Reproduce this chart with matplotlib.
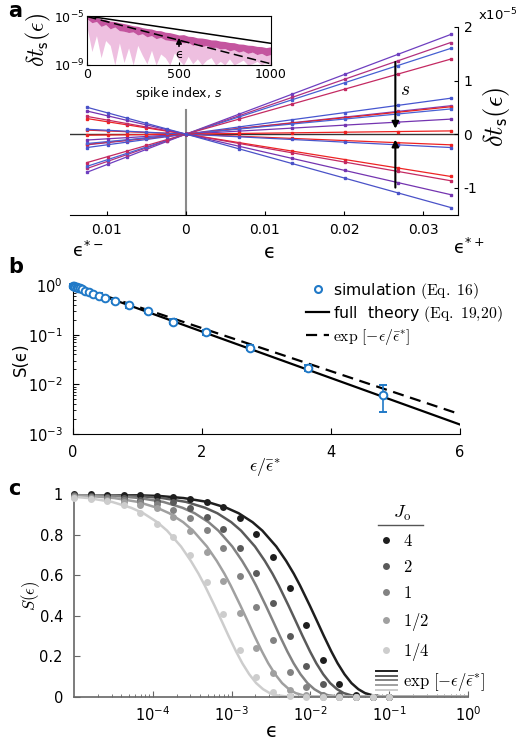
import numpy as np
import matplotlib.pyplot as plt
from matplotlib.lines import Line2D
from matplotlib.legend_handler import HandlerBase
from matplotlib.ticker import NullLocator, NullFormatter, LogLocator

plt.rcParams['font.family'] = ['DejaVu Sans']
plt.rcParams['axes.unicode_minus'] = False

# ---------------- panel a: spike time shifts vs epsilon ----------------
eps_neg = [-0.0125, -0.0099, -0.0075, -0.0050, -0.0024]
eps_pos = [0.0067, 0.0134, 0.0201, 0.0268, 0.0335]
# delta t_s (units of 1e-5) read at the outermost points, one entry per spike s
dt_right = [1.86, 1.71, 1.60, 1.40, 0.67, 0.53, 0.51, 0.47, 0.28, 0.06,
            -0.20, -0.25, -0.79, -0.87, -1.13, -1.37]
dt_left = [-0.71, -0.64, -0.60, -0.53, -0.25, -0.20, -0.19, -0.175, -0.11, -0.02,
           0.075, 0.09, 0.29, 0.33, 0.43, 0.50]
line_colors = ['#6e3fc0', '#b2307e', '#4660d2', '#c42a62', '#4656d0', '#8240b0',
               '#e82222', '#4a62d4', '#7434b0', '#ee2222', '#ee2222', '#4a56cc',
               '#ee2424', '#c42a62', '#7434b0', '#4a52c8']

# inset: dt_s over spike index (log10 values)
spike_index = np.arange(0, 1001, 25)
dark_hi = [-5.00, -5.10, -5.12, -5.25, -5.30, -5.42, -5.45, -5.55, -5.62, -5.70,
           -5.80, -5.84, -5.95, -6.02, -6.06, -6.18, -6.20, -6.32, -6.36, -6.45,
           -6.55, -6.52, -6.65, -6.68, -6.78, -6.80, -6.86, -6.95, -6.96, -7.05,
           -7.08, -7.16, -7.18, -7.28, -7.30, -7.38, -7.40, -7.48, -7.50, -7.58, -7.52]
dark_lo = [-5.25, -5.55, -5.45, -5.85, -5.70, -6.05, -5.90, -6.20, -6.25, -6.35,
           -6.30, -6.55, -6.45, -6.70, -6.60, -6.85, -6.75, -6.95, -7.00, -7.05,
           -7.10, -7.20, -7.15, -7.40, -7.25, -7.50, -7.40, -7.60, -7.55, -7.70,
           -7.65, -7.85, -7.75, -7.95, -7.85, -8.05, -7.95, -8.15, -8.05, -8.25, -8.15]
light_lo = [-6.0, -7.9, -6.6, -8.4, -7.0, -7.4, -9.0, -7.2, -8.8, -7.6,
            -9.0, -7.4, -8.2, -8.9, -7.8, -9.0, -8.1, -8.4, -9.0, -8.0,
            -8.6, -9.0, -8.3, -8.9, -8.5, -9.0, -8.6, -8.4, -9.0, -8.7,
            -9.0, -8.5, -9.0, -8.8, -8.6, -9.0, -8.9, -8.7, -9.0, -8.8, -9.0]
bound_s = [0, 1000]
bound_solid = [1e-5, 5.9e-8]
bound_dashed = [8.9e-6, 1.26e-9]

# ---------------- panel b: survival vs eps / eps* ----------------
b_x = [0.0, 0.02, 0.04, 0.06, 0.08, 0.11, 0.14, 0.19, 0.25, 0.32,
       0.40, 0.50, 0.65, 0.87, 1.17, 1.56, 2.07, 2.75, 3.64, 4.80]
b_S = [0.97, 0.95, 0.93, 0.91, 0.89, 0.86, 0.83, 0.77, 0.71, 0.66,
       0.61, 0.55, 0.475, 0.39, 0.30, 0.182, 0.112, 0.055, 0.021, 0.0060]
b_err_lo = [0.09, 0.09, 0.09, 0.09, 0.08, 0.08, 0.08, 0.07, 0.07, 0.06,
            0.06, 0.05, 0.045, 0.04, 0.03, 0.02, 0.013, 0.0065, 0.0025, 0.0032]
b_err_hi = [0.09, 0.09, 0.09, 0.09, 0.09, 0.09, 0.09, 0.08, 0.08, 0.07,
            0.07, 0.06, 0.05, 0.045, 0.035, 0.022, 0.015, 0.0075, 0.003, 0.0035]
b_line_x = [0, 6]
b_full_theory = [1.0, 0.00155]
b_exp = [1.0, 0.0025]

# ---------------- panel c: survival vs eps for several J0 ----------------
c_eps = [1.00e-5, 1.62e-5, 2.64e-5, 4.28e-5, 6.95e-5, 1.13e-4, 1.83e-4, 2.98e-4,
         4.83e-4, 7.85e-4, 1.27e-3, 2.07e-3, 3.36e-3, 5.46e-3, 8.86e-3, 1.44e-2,
         2.33e-2, 3.79e-2, 6.16e-2, 1.00e-1]
c_J0 = ['4', '2', '1', '1/2', '1/4']
c_sim = [
    [1.0, 0.998, 0.997, 0.995, 0.993, 0.988, 0.984, 0.975, 0.962, 0.935,
     0.88, 0.803, 0.69, 0.534, 0.354, 0.181, 0.062, 0.006, 0.0, 0.0],
    [0.995, 0.99, 0.985, 0.98, 0.97, 0.965, 0.959, 0.929, 0.887, 0.826,
     0.735, 0.609, 0.460, 0.300, 0.151, 0.062, 0.008, 0.0, 0.0, 0.0],
    [0.99, 0.985, 0.98, 0.97, 0.962, 0.949, 0.921, 0.880, 0.821, 0.732,
     0.597, 0.444, 0.280, 0.123, 0.050, 0.008, 0.0, 0.0, 0.0, 0.0],
    [0.985, 0.98, 0.97, 0.96, 0.945, 0.929, 0.885, 0.817, 0.716, 0.572,
     0.411, 0.239, 0.118, 0.033, 0.008, 0.0, 0.0, 0.0, 0.0, 0.0],
    [0.98, 0.975, 0.965, 0.946, 0.905, 0.850, 0.790, 0.698, 0.566, 0.408,
     0.232, 0.095, 0.024, 0.005, 0.0, 0.0, 0.0, 0.0, 0.0, 0.0],
]
c_eps_star = [1.23e-2, 6.6e-3, 3.4e-3, 1.62e-3, 7.6e-4]
# theory curve shape S vs eps/eps* (same for every J0)
shape_u = [0.0003, 0.001, 0.003, 0.01, 0.02, 0.04, 0.07, 0.1, 0.15, 0.2,
           0.3, 0.4, 0.5, 0.6, 0.8, 1.0, 1.2, 1.5, 1.8, 2.2,
           2.7, 3.3, 4.0, 5.0, 6.5, 9.0, 15.0, 100.0, 1000.0, 3000.0]
shape_S = [0.9997, 0.999, 0.997, 0.990, 0.980, 0.961, 0.932, 0.905, 0.861, 0.819,
           0.741, 0.670, 0.607, 0.549, 0.449, 0.368, 0.301, 0.223, 0.165, 0.111,
           0.067, 0.037, 0.018, 0.0067, 0.0015, 0.0001, 0.0, 0.0, 0.0, 0.0]
c_colors = ['#1e1e1e', '#5a5a5a', '#828282', '#a0a0a0', '#cdcdcd']

W, H = 518, 741
fig = plt.figure(figsize=(W / 100, H / 100), dpi=100)


def px_axes(left, top, right, bottom):
    return fig.add_axes([left / W, 1 - bottom / H, (right - left) / W, (bottom - top) / H])


def ftext(x, y, s, **kw):
    kw.setdefault('ha', 'center')
    kw.setdefault('va', 'center')
    return fig.text(x / W, 1 - y / H, s, **kw)


# ===== panel a =====
ax = px_axes(70, 27, 458, 215)
ax.axhline(0, color='#333333', lw=1.0, zorder=1)
ax.axvline(0, ymin=0, ymax=(0.45 + 1.51) / 3.51, color='#8a8a8a', lw=1.5, zorder=1)
x_left, x_right = eps_neg[0], eps_pos[-1]
for r, l, col in zip(dt_right, dt_left, line_colors):
    xs = eps_neg + [0.0] + eps_pos
    ys = [l * e / x_left for e in eps_neg] + [0.0] + [r * e / x_right for e in eps_pos]
    ax.plot(xs, ys, color=col, lw=0.9, marker='s', ms=1.8, zorder=2)
ax.set_xlim(-0.01468, 0.03443)
ax.set_ylim(-1.51, 2.0)
for side in ['top', 'left']:
    ax.spines[side].set_visible(False)
ax.yaxis.tick_right()
ax.set_yticks([-1, 0, 1, 2])
ax.set_yticklabels(['-1', '0', '1', '2'])
ax.set_xticks([-0.01, 0, 0.01, 0.02, 0.03])
ax.set_xticklabels(['0.01', '0', '0.01', '0.02', '0.03'])
ax.tick_params(direction='in', length=3, labelsize=10)
ax.tick_params(axis='x', pad=6)
ax.tick_params(axis='y', pad=4)
ax.annotate('', xy=(0.0265, 0.05), xytext=(0.0265, 1.40),
            arrowprops=dict(arrowstyle='-|>', color='k', lw=1.5, mutation_scale=10))
ax.annotate('', xy=(0.0265, -0.05), xytext=(0.0265, -1.05),
            arrowprops=dict(arrowstyle='-|>', color='k', lw=1.5, mutation_scale=10))
ax.text(0.0277, 0.84, '$s$', fontsize=14, ha='center', va='center', math_fontfamily='cm')
ax.set_xlabel('ϵ', fontsize=14)
ax.xaxis.set_label_coords(0.515, -0.20)
ax.xaxis.label.set_va('center')
ftext(88, 251, 'ϵ$^{*-}$', fontsize=13)
ftext(469, 248, 'ϵ$^{*+}$', fontsize=13)
ftext(497, 117, r'$\delta t_{\mathsf{s}}(\epsilon)$', fontsize=19, rotation=90, math_fontfamily='cm')
ftext(478, 15, 'x10$^{-5}$', fontsize=9.5, ha='left')

# inset
axin = px_axes(87.3, 16, 270.7, 65)
axin.fill_between(spike_index, 10 ** np.array(light_lo), 10 ** np.array(dark_lo),
                  color='#eebfe0', lw=0)
axin.fill_between(spike_index, 10 ** np.array(dark_lo), 10 ** np.array(dark_hi),
                  color='#c4559f', lw=0)
axin.plot(bound_s, bound_solid, color='k', lw=1.1)
axin.plot(bound_s, bound_dashed, color='k', lw=1.1, dashes=(6, 3))
axin.annotate('', xy=(500, 10 ** -6.55), xytext=(500, 10 ** -7.7),
              arrowprops=dict(arrowstyle='-|>', color='k', lw=1.2, mutation_scale=8))
axin.text(500, 10 ** -8.15, 'ϵ', fontsize=9, ha='center', va='center')
axin.set_yscale('log')
axin.set_xlim(0, 1000)
axin.set_ylim(1e-9, 1e-5)
axin.set_yticks([1e-9, 1e-5])
axin.yaxis.set_minor_locator(NullLocator())
axin.set_xticks([0, 500, 1000])
axin.tick_params(direction='in', length=2.5, labelsize=9, pad=2)
for sp in axin.spines.values():
    sp.set_linewidth(0.8)
axin.set_xlabel('spike index, $s$', fontsize=9)
axin.xaxis.set_label_coords(0.5, -0.58)
axin.xaxis.label.set_va('center')
ftext(38, 40, r'$\delta t_{\mathsf{s}}(\epsilon)$', fontsize=17, rotation=90, math_fontfamily='cm')

# ===== panel b =====
blue = '#2079c7'
axb = px_axes(72.7, 285, 460, 434)
axb.plot(b_line_x, b_full_theory, color='k', lw=1.6, zorder=2)
axb.plot(b_line_x, b_exp, color='k', lw=1.6, dashes=(5, 3), zorder=2)
axb.errorbar(b_x, b_S, yerr=[b_err_lo, b_err_hi], fmt='o', mfc='white', mec=blue,
             ecolor=blue, ms=5.5, mew=1.4, elinewidth=1.2, capsize=3, capthick=1.2,
             zorder=3, clip_on=False)
axb.set_yscale('log')
axb.set_xlim(0, 6)
axb.set_ylim(1e-3, 1.0)
axb.set_xticks([0, 2, 4, 6])
for side in ['top', 'right']:
    axb.spines[side].set_visible(False)
axb.tick_params(which='both', direction='in', labelsize=10.5)
axb.tick_params(which='major', length=4)
axb.tick_params(which='minor', length=2)
axb.tick_params(axis='y', pad=7)
axb.tick_params(axis='x', pad=8)
axb.set_ylabel('S(ϵ)', fontsize=12)
axb.yaxis.set_label_coords(-0.135, 0.5)
axb.yaxis.label.set(va='center', rotation_mode='anchor')
axb.set_xlabel(r'$\epsilon/\bar{\epsilon}^{*}$', fontsize=13, math_fontfamily='cm')
axb.xaxis.set_label_coords(0.497, -0.22)
axb.xaxis.label.set_va('center')
b_handles = [Line2D([], [], marker='o', ls='none', mfc='white', mec=blue, mew=1.5, ms=5),
             Line2D([], [], color='k', lw=1.6),
             Line2D([], [], color='k', lw=1.6, dashes=(5, 3))]
b_labels = [r'simulation $\mathrm{(Eq.\ 16)}$',
            r'full  theory $\mathrm{(Eq.\ 19{,}20)}$',
            r'$\exp\,[-\epsilon/\bar{\epsilon}^{*}]$']
legb = axb.legend(b_handles, b_labels, loc='upper left', bbox_to_anchor=(0.602, 1.03),
                  frameon=False, fontsize=11.3, handlelength=1.5, handletextpad=0.25,
                  labelspacing=0.2, borderpad=0, borderaxespad=0)
for t in legb.get_texts():
    t.set_math_fontfamily('cm')

# ===== panel c =====
axc = px_axes(74, 494, 468, 696.7)
for es, col in zip(c_eps_star, c_colors):
    axc.plot([u * es for u in shape_u], shape_S, color=col, lw=1.8, zorder=2)
for vals, col in zip(c_sim, c_colors):
    axc.plot(c_eps, vals, 'o', color=col, ms=5, mew=0, zorder=3, clip_on=False)
axc.set_xscale('log')
axc.set_xlim(1e-5, 1)
axc.set_ylim(0, 1)
axc.set_xticks([1e-4, 1e-3, 1e-2, 1e-1, 1])
axc.xaxis.set_minor_locator(LogLocator(base=10, subs=np.arange(2, 10)))
axc.xaxis.set_minor_formatter(NullFormatter())
axc.set_yticks([0, 0.2, 0.4, 0.6, 0.8, 1])
axc.set_yticklabels(['0', '0.2', '0.4', '0.6', '0.8', '1'])
for side in ['top', 'right']:
    axc.spines[side].set_visible(False)
for side in ['left', 'bottom']:
    axc.spines[side].set_color('#666666')
    axc.spines[side].set_linewidth(1.2)
axc.tick_params(which='both', direction='in', labelsize=10.5, color='#666666')
axc.tick_params(which='major', length=4)
axc.tick_params(which='minor', length=2.5)
axc.tick_params(axis='y', pad=8)
axc.tick_params(axis='x', pad=6)
axc.set_ylabel(r'$S(\epsilon)$', fontsize=12, math_fontfamily='cm')
axc.yaxis.set_label_coords(-0.11, 0.5)
axc.yaxis.label.set(va='center', rotation_mode='anchor')
axc.set_xlabel('ϵ', fontsize=14)
axc.xaxis.set_label_coords(0.503, -0.17)
axc.xaxis.label.set_va('center')


class StackedLines:
    pass


class StackedHandler(HandlerBase):
    def create_artists(self, legend, orig_handle, xdescent, ydescent, width, height,
                       fontsize, trans):
        arts = []
        n = len(c_colors)
        for i, col in enumerate(c_colors):
            y = height / 2 + (n / 2 - i - 0.5) * 0.28 * fontsize
            arts.append(Line2D([-xdescent, width - xdescent], [y, y], color=col, lw=1.4,
                               transform=trans))
        return arts


c_handles = [Line2D([], [], marker='o', ls='none', color=col, ms=5, mew=0) for col in c_colors]
c_handles.append(StackedLines())
c_labels = ['$' + j + '$' for j in c_J0] + [r'$\exp\,[-\epsilon/\bar{\epsilon}^{*}]$']
legc = axc.legend(c_handles, c_labels, loc='upper left', bbox_to_anchor=(0.766, 0.95),
                  frameon=False, fontsize=12, handlelength=1.25, handletextpad=0.4,
                  labelspacing=0.5, borderpad=0, borderaxespad=0,
                  handler_map={StackedLines: StackedHandler()},
                  title=r'   $J_{\mathrm{o}}$', title_fontsize=13, alignment='left')
for t in legc.get_texts():
    t.set_math_fontfamily('cm')
legc.get_title().set_math_fontfamily('cm')
fig.add_artist(Line2D([378 / W, 423 / W], [1 - 525 / H, 1 - 525 / H], color='#555555', lw=1))

# panel letters
ftext(8, 17, 'a', fontsize=15, weight='bold', ha='left', va='baseline')
ftext(8, 273, 'b', fontsize=15, weight='bold', ha='left', va='baseline')
ftext(8, 495, 'c', fontsize=15, weight='bold', ha='left', va='baseline')

fig.savefig('out.png', dpi=100)
